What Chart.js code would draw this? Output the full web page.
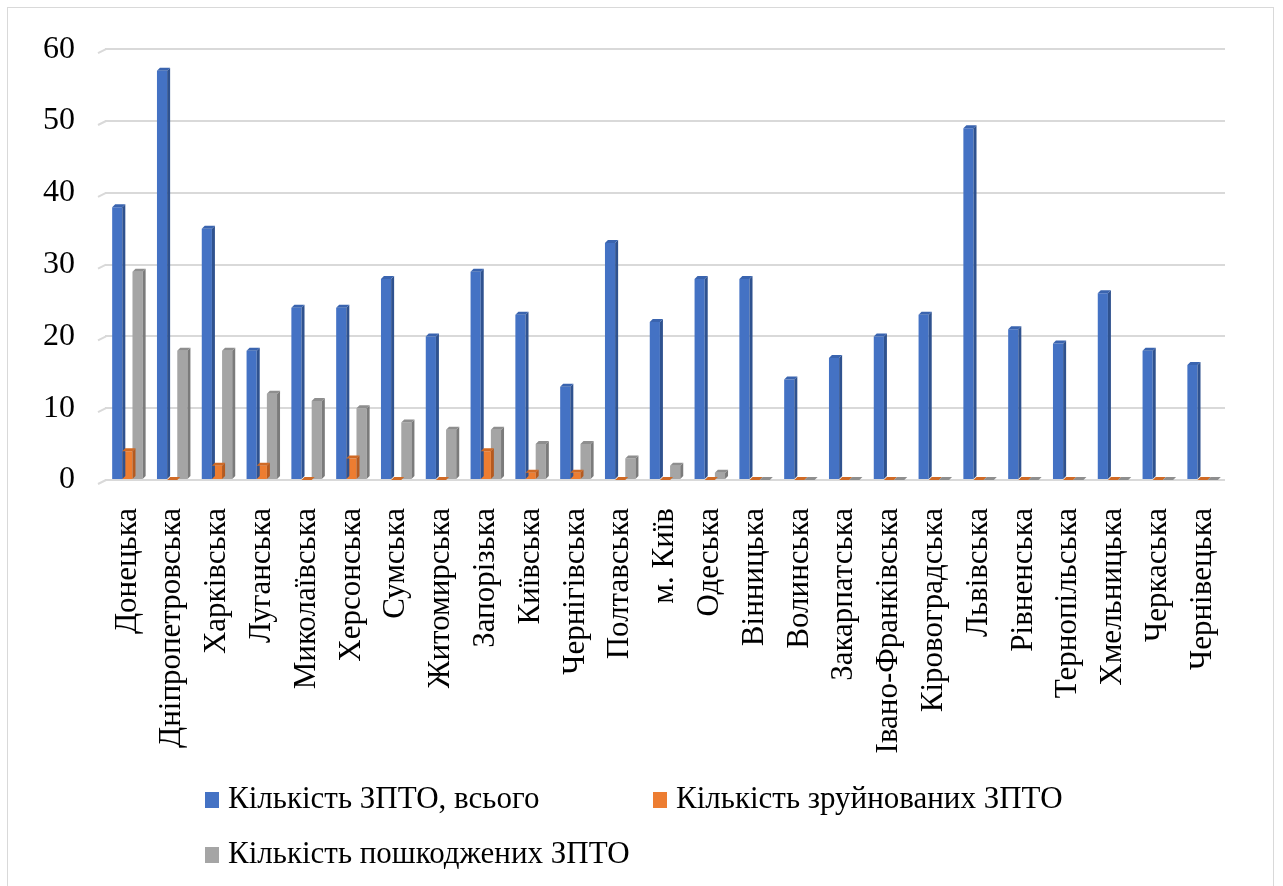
<!DOCTYPE html>
<html>
<head>
<meta charset="utf-8">
<script src="https://cdn.jsdelivr.net/npm/chart.js@4.4.0/dist/chart.umd.min.js"></script>
<style>
  html, body { margin: 0; padding: 0; background: #fff; }
  #wrap { position: relative; width: 1283px; height: 886px; overflow: hidden; }
  #frame { position: absolute; left: 7px; top: 7px; width: 1267px; height: 900px; border: 1px solid #d9d9d9; box-sizing: border-box; }
  #chartBox { position: absolute; left: 0; top: 0; width: 1283px; height: 886px; }
  .legend { position: absolute; font-family: 'Liberation Serif', 'DejaVu Serif', serif; font-size: 31px; color: #000; white-space: nowrap; }
  .legend span.box { display: inline-block; width: 14px; height: 16px; margin-right: 9px; vertical-align: 0px; }
</style>
</head>
<body>
<div id="wrap">
  <div id="frame"></div>
  <div id="chartBox"><canvas id="zptoChart" width="1283" height="886"></canvas></div>
  <div class="legend" style="left:205px; top:780px;"><span class="box" style="background:#4472C4"></span>Кількість ЗПТО, всього</div>
  <div class="legend" style="left:653px; top:780px;"><span class="box" style="background:#ED7D31"></span>Кількість зруйнованих ЗПТО</div>
  <div class="legend" style="left:205px; top:835px;"><span class="box" style="background:#A5A5A5"></span>Кількість пошкоджених ЗПТО</div>
</div>
<script>
const regions = ['Донецька', 'Дніпропетровська', 'Харківська', 'Луганська', 'Миколаївська', 'Херсонська',
    'Сумська', 'Житомирська', 'Запорізька', 'Київська', 'Чернігівська', 'Полтавська', 'м. Київ', 'Одеська',
    'Вінницька', 'Волинська', 'Закарпатська', 'Івано-Франківська', 'Кіровоградська', 'Львівська',
    'Рівненська', 'Тернопільська', 'Хмельницька', 'Черкаська', 'Чернівецька'];
const totalCount = [38, 57, 35, 18, 24, 24, 28, 20, 29, 23, 13, 33, 22, 28, 28, 14, 17, 20, 23, 49, 21, 19, 26, 18, 16];
const destroyedCount = [4, 0, 2, 2, 0, 3, 0, 0, 4, 1, 1, 0, 0, 0, 0, 0, 0, 0, 0, 0, 0, 0, 0, 0, 0];
const damagedCount = [29, 18, 18, 12, 11, 10, 8, 7, 7, 5, 5, 3, 2, 1, 0, 0, 0, 0, 0, 0, 0, 0, 0, 0, 0];
const yTicks = [0, 10, 20, 30, 40, 50, 60];

const sideColors = ['#2F528F', '#B55A1F', '#7B7B7B'];
const topColors = ['#3A64AF', '#D06A25', '#8E8E8E'];

// fake 3D look: darker side and top for every bar, plus the little wall edges on the gridlines
const depthPlugin = {
    id: 'depth',
    beforeDatasetsDraw(chart) {
        const ctx = chart.ctx;
        const y = chart.scales.y;
        const left = chart.chartArea.left;
        ctx.save();
        ctx.strokeStyle = '#D9D9D9';
        ctx.lineWidth = 2;
        yTicks.forEach(v => {
            const py = y.getPixelForValue(v);
            ctx.beginPath();
            ctx.moveTo(left - 7, py + 4);
            ctx.lineTo(left + 1, py);
            ctx.stroke();
        });
        ctx.restore();
    },
    afterDatasetsDraw(chart) {
        const ctx = chart.ctx;
        const dx = 3, dy = 3;
        ctx.save();
        chart.data.datasets.forEach((ds, i) => {
            chart.getDatasetMeta(i).data.forEach(bar => {
                const l = bar.x - bar.width / 2;
                const r = bar.x + bar.width / 2;
                const t = bar.y;
                const b = bar.base;
                ctx.fillStyle = sideColors[i];
                ctx.beginPath();
                ctx.moveTo(r, t);
                ctx.lineTo(r + dx, t - dy);
                ctx.lineTo(r + dx, b - dy);
                ctx.lineTo(r, b);
                ctx.closePath();
                ctx.fill();
                ctx.fillStyle = topColors[i];
                ctx.beginPath();
                ctx.moveTo(l, t);
                ctx.lineTo(l + dx, t - dy);
                ctx.lineTo(r + dx, t - dy);
                ctx.lineTo(r, t);
                ctx.closePath();
                ctx.fill();
            });
        });
        ctx.restore();
    }
};

const ctx = document.getElementById('zptoChart').getContext('2d');
new Chart(ctx, {
    type: 'bar',
    data: {
        labels: regions,
        datasets: [
            { label: 'Кількість ЗПТО, всього', data: totalCount, backgroundColor: '#4472C4' },
            { label: 'Кількість зруйнованих ЗПТО', data: destroyedCount, backgroundColor: '#ED7D31' },
            { label: 'Кількість пошкоджених ЗПТО', data: damagedCount, backgroundColor: '#A5A5A5' }
        ]
    },
    options: {
        responsive: false,
        animation: false,
        events: [],
        categoryPercentage: 0.68,
        barPercentage: 1.0,
        layout: { padding: { top: 48, right: 58, bottom: 116, left: 0 } },
        plugins: {
            legend: { display: false },
            tooltip: { enabled: false }
        },
        scales: {
            x: {
                grid: { display: false },
                border: { display: false },
                ticks: {
                    minRotation: 90,
                    maxRotation: 90,
                    autoSkip: false,
                    padding: 20,
                    color: '#000',
                    font: { family: 'Liberation Serif', size: 31 }
                },
                afterFit(scale) { scale.height = 290; }
            },
            y: {
                min: 0,
                max: 60,
                afterBuildTicks(scale) { scale.ticks = yTicks.map(v => ({ value: v })); },
                grid: { color: '#D9D9D9', lineWidth: 2, drawTicks: false },
                border: { display: false },
                ticks: {
                    padding: 30,
                    color: '#000',
                    font: { family: 'Liberation Serif', size: 32 }
                },
                afterFit(scale) { scale.width = 105; }
            }
        }
    },
    plugins: [depthPlugin]
});
</script>
</body>
</html>
